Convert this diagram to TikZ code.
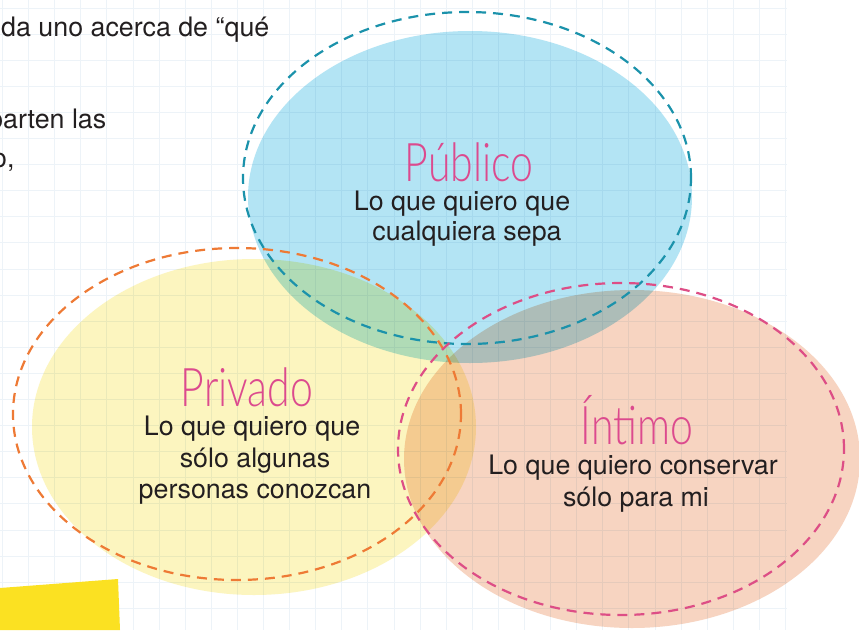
\documentclass[tikz,border=0pt]{standalone}
\usepackage{fontspec}
\setmainfont{TeX Gyre Heros}
\IfFontExistsTF{Lato Light}{\newfontfamily\handfont{Lato Light}}{\newfontfamily\handfont{Lato}}
\definecolor{gridc}{HTML}{EDF3F8}
\definecolor{bluef}{HTML}{B3E4F4}
\definecolor{yelf}{HTML}{FCF5BF}
\definecolor{peachf}{HTML}{F7D4C1}
\definecolor{yelbar}{HTML}{FBE122}
\definecolor{bluedash}{HTML}{1B92AB}
\definecolor{orangedash}{HTML}{EE7A35}
\definecolor{pinkdash}{HTML}{DD4E86}
\definecolor{titlec}{HTML}{DC4A8E}
\definecolor{txt}{HTML}{231F20}
\begin{document}
\begin{tikzpicture}[x=1pt,y=-1pt,
  outl/.style={line width=2.2pt, dash pattern=on 10pt off 7pt},
  body/.style={font=\fontsize{26.8}{30}\selectfont, text=txt, inner sep=0pt, anchor=base},
  bodyw/.style={body, anchor=base west},
  titletxt/.style={font=\handfont\fontsize{41}{41}\selectfont, text=titlec, inner sep=0pt, anchor=base}]
\useasboundingbox (0,0) rectangle (859,630);
\fill[white] (0,0) rectangle (859,630);
% grid
\foreach \i in {0,...,30} \draw[gridc, line width=1pt] ({2.5+26.1*\i},0) -- ({2.5+26.1*\i},630);
\foreach \j in {0,...,23} \draw[gridc, line width=1pt] (0,{8+26.1*\j}) -- (787,{8+26.1*\j});
% cut-off text
\node[bodyw] (l1) at (1,36) {da uno acerca de “qué};
\node[bodyw] (l2) at (-12,128) {parten las};
\node[bodyw] (l3) at (-8,167) {o,};
% yellow bar
\fill[yelbar] (0,588) -- (118,579) -- (120,630) -- (0,630) -- cycle;
% fills
\begin{scope}[blend mode=multiply]
\fill[bluef] (470,197) ellipse [x radius=222pt, y radius=166pt];
\fill[yelf] (254,427) ellipse [x radius=222pt, y radius=168pt];
\fill[peachf] (632,459) ellipse [x radius=228pt, y radius=169pt];
\end{scope}
% dashed outlines
\draw[outl, bluedash] (467,178) ellipse [x radius=224pt, y radius=166pt];
\draw[outl, orangedash] (237,414) ellipse [x radius=224pt, y radius=166pt];
\draw[outl, pinkdash] (621,449) ellipse [x radius=223pt, y radius=166pt];
% texts
\node[titletxt] (tpub) at (469,181) {\scalebox{1}[1.3]{Público}};
\node[body] (pub1) at (462,210) {Lo que quiero que};
\node[body] (pub2) at (467,240) {cualquiera sepa};
\node[titletxt] (tpriv) at (247,406) {\scalebox{1}[1.3]{Privado}};
\node[body] (priv1) at (252,435) {Lo que quiero que};
\node[body] (priv2) at (255,467) {sólo algunas};
\node[body] (priv3) at (255,498) {personas conozcan};
\node[titletxt] (tint) at (637,444) {\scalebox{1}[1.3]{Íntimo}};
\node[body] (int1) at (633,474) {Lo que quiero conservar};
\node[body] (int2) at (636,506) {sólo para mi};
\end{tikzpicture}
\end{document}
